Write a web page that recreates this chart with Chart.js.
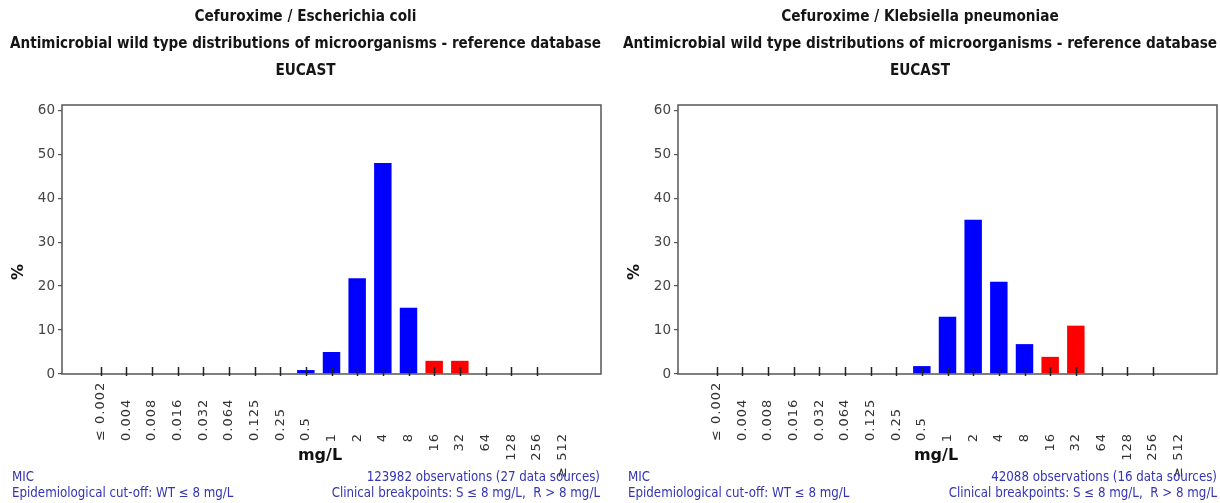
<!DOCTYPE html>
<html lang="en">
<head>
<meta charset="utf-8">
<title>Cefuroxime - EUCAST MIC distributions</title>
<script src="https://cdn.jsdelivr.net/npm/chart.js"></script>
<style>
  body { margin: 0; background: #fff; }
  .panel { position: absolute; top: 0; width: 610px; height: 503px; }
  .foot { position: absolute; top: 469px; font: 13.2px 'DejaVu Sans Condensed', 'DejaVu Sans', sans-serif; color: #3434b4; line-height: 16px; white-space: nowrap; }
</style>
</head>
<body>

<div class="panel" style="left:0">
  <canvas id="ecoli" width="610" height="503"></canvas>
  <div class="foot" style="left:12px">MIC<br>Epidemiological cut-off: WT &le; 8 mg/L</div>
  <div class="foot" style="right:10px; text-align:right">123982 observations (27 data sources)<br>Clinical breakpoints: S &le; 8 mg/L,&nbsp; R &gt; 8 mg/L</div>
</div>

<div class="panel" style="left:610px">
  <canvas id="kpn" width="610" height="503"></canvas>
  <div class="foot" style="left:18px">MIC<br>Epidemiological cut-off: WT &le; 8 mg/L</div>
  <div class="foot" style="right:3px; text-align:right">42088 observations (16 data sources)<br>Clinical breakpoints: S &le; 8 mg/L,&nbsp; R &gt; 8 mg/L</div>
</div>

<script>
// MIC classes (mg/L)
const micLabels = ['≤ 0.002', '0.004', '0.008', '0.016', '0.032', '0.064', '0.125', '0.25', '0.5',
                   '1', '2', '4', '8', '16', '32', '64', '128', '256', '≥ 512'];

// % of isolates per MIC class
const ecoliPct = [0, 0, 0, 0, 0, 0, 0, 0, 0.9, 5, 21.8, 48, 15.1, 3, 3, 0, 0, 0, 0];
const kpnPct   = [0, 0, 0, 0, 0, 0, 0, 0, 1.8, 13, 35.1, 21, 6.8, 3.9, 11, 0, 0, 0, 0];

const yTicks = [0, 10, 20, 30, 40, 50, 60];
const breakpoint = '8';   // S <= 8, R > 8

const subTitle = 'Antimicrobial wild type distributions of microorganisms - reference database';

const blue = '#0000ff';
const red = '#ff0000';
const breakIdx = micLabels.indexOf(breakpoint);
const barColors = [null, ...micLabels.map((l, i) => i <= breakIdx ? blue : red), null];

// box around the plot, inward x ticks, decimal-aligned MIC labels, axis titles
const micAxis = {
  id: 'micAxis',
  afterDatasetsDraw(chart) {
    const ctx = chart.ctx;
    const a = chart.chartArea;
    const xs = chart.scales.x;
    ctx.save();

    ctx.strokeStyle = '#555';
    ctx.lineWidth = 1.5;
    ctx.strokeRect(a.left, a.top, a.right - a.left, a.bottom - a.top);

    ctx.strokeStyle = '#222';
    ctx.lineWidth = 1.5;
    for (let i = 1; i < micLabels.length; i++) {
      const x = Math.round(xs.getPixelForValue(i)) + 0.5;
      ctx.beginPath();
      ctx.moveTo(x, a.bottom + 2);
      ctx.lineTo(x, a.bottom - 7);
      ctx.stroke();
    }

    ctx.fillStyle = '#333';
    ctx.font = '13px "DejaVu Sans"';
    ctx.letterSpacing = '1px';
    ctx.textBaseline = 'middle';
    micLabels.forEach((lab, i) => {
      const x = xs.getPixelForValue(i + 1);
      const dec = lab.includes('.');
      ctx.save();
      ctx.translate(x, dec ? 441 : 433);
      ctx.rotate(-Math.PI / 2);
      ctx.textAlign = dec ? 'left' : 'right';
      ctx.fillText(lab, 0, 0);
      ctx.restore();
    });
    ctx.letterSpacing = '0px';

    ctx.fillStyle = '#111';
    ctx.font = 'bold 16px "DejaVu Sans"';
    ctx.textAlign = 'center';
    ctx.fillText('mg/L', a.left + 258, 456);

    ctx.save();
    ctx.translate(a.left - 43, 272);
    ctx.rotate(-Math.PI / 2);
    ctx.fillText('%', 0, 0);
    ctx.restore();

    ctx.restore();
  }
};

function drawMic(id, bug, values, padLeft, axisWidth, padRight) {
  new Chart(document.getElementById(id), {
    type: 'bar',
    data: {
      labels: ['', ...micLabels, ''],
      datasets: [{
        data: [null, ...values, null],
        backgroundColor: barColors,
        borderWidth: 0,
        barPercentage: 0.68,
        categoryPercentage: 1
      }]
    },
    options: {
      responsive: false,
      animation: false,
      layout: { padding: { left: padLeft, right: padRight, top: 0, bottom: 0 } },
      plugins: {
        legend: { display: false },
        tooltip: { enabled: false },
        title: {
          display: true,
          text: ['Cefuroxime / ' + bug, subTitle, 'EUCAST'],
          color: '#151515',
          font: { family: '"DejaVu Sans Condensed", "DejaVu Sans"', size: 15.2, weight: 'bold', lineHeight: 27 / 15.2 },
          padding: { top: 4, bottom: 20 }
        }
      },
      scales: {
        x: {
          grid: { display: false },
          border: { display: false },
          ticks: { display: false },
          afterFit: s => { s.height = 129; }
        },
        y: {
          min: 0,
          max: 61.2,
          afterBuildTicks: s => { s.ticks = yTicks.map(v => ({ value: v })); },
          ticks: { color: '#444', padding: 3, font: { family: '"DejaVu Sans"', size: 13.5 } },
          grid: { drawOnChartArea: false, tickLength: 4, color: '#555', lineWidth: 1.2 },
          border: { display: false },
          afterFit: s => { s.width = axisWidth; }
        }
      }
    },
    plugins: [micAxis]
  });
}

drawMic('ecoli', 'Escherichia coli', ecoliPct, 10, 52, 9);
drawMic('kpn', 'Klebsiella pneumoniae', kpnPct, 13, 55, 3);
</script>
</body>
</html>
